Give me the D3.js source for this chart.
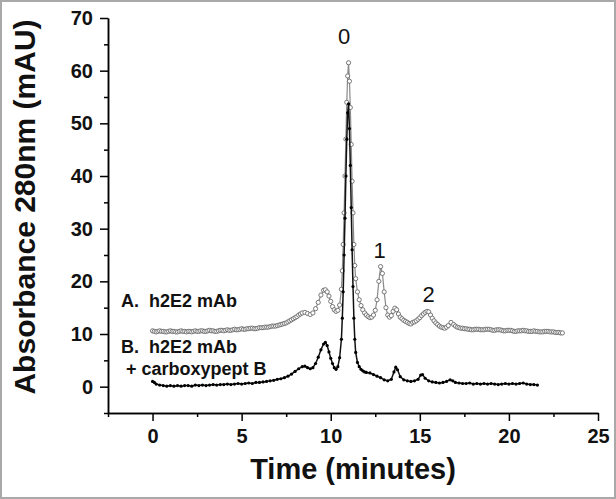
<!DOCTYPE html>
<html>
<head>
<meta charset="utf-8">
<script src="https://cdn.jsdelivr.net/npm/d3@7"></script>
<style>
  body { margin: 0; background: #fff; }
  svg { display: block; }
</style>
</head>
<body>
<svg width="616" height="499"></svg>
<script>
// series A: h2E2 mAb (open circles, sits ~10 mAU higher)
var timeA = [0,0.1,0.2,0.3,0.4,0.5,0.6,0.7,0.8,0.9,1,1.1,1.2,1.3,1.4,1.5,1.6,1.7,1.8,1.9,2,2.1,2.2,2.3,2.4,2.5,2.6,2.7,2.8,2.9,3,3.1,3.2,3.3,3.4,3.5,3.6,3.7,3.8,3.9,4,4.1,4.2,4.3,4.4,4.5,4.6,4.7,4.8,4.9,5,5.1,5.2,5.3,5.4,5.5,5.6,5.7,5.8,5.9,6,6.1,6.2,6.3,6.4,6.5,6.6,6.7,6.8,6.9,7,7.1,7.2,7.3,7.4,7.5,7.6,7.7,7.8,7.9,8,
  8.1,8.2,8.3,8.4,8.55,8.7,8.85,9,9.15,9.3,9.45,9.6,9.7,9.8,9.9,10,10.1,10.2,10.3,10.4,10.5,10.6,10.65,10.7,10.75,10.8,10.85,10.9,10.95,11,11.05,11.1,11.15,11.2,11.25,11.3,11.35,11.4,11.5,11.6,11.7,11.8,11.9,12,12.1,12.2,12.3,12.4,12.5,12.6,12.7,12.8,12.9,13,13.1,13.2,13.3,13.4,13.5,13.6,13.7,13.8,13.9,14,14.1,14.2,14.3,14.4,14.5,14.6,14.7,14.8,14.9,15,15.1,15.2,15.3,15.4,15.5,15.6,15.7,15.8,15.9,16,16.1,16.2,16.3,16.4,16.5,16.6,16.75,16.9,
  17,17.1,17.2,17.3,17.4,17.5,17.6,17.7,17.8,17.9,18,18.1,18.2,18.3,18.4,18.5,18.6,18.7,18.8,18.9,19,19.1,19.2,19.3,19.4,19.5,19.6,19.7,19.8,19.9,20,20.1,20.2,20.3,20.4,20.5,20.6,20.7,20.8,20.9,21,21.1,21.2,21.3,21.4,21.5,21.6,21.7,21.8,21.9,22,22.1,22.2,22.3,22.4,22.5,22.6,22.7,22.8,22.9,23];
var absA = [10.6,10.5,10.4,10.5,10.6,10.5,10.5,10.4,10.4,10.5,10.6,10.5,10.5,10.4,10.4,10.5,10.6,10.5,10.5,10.4,10.5,10.5,10.4,10.5,10.6,10.5,10.5,10.6,10.6,10.5,10.5,10.6,10.7,10.6,10.6,10.5,10.5,10.6,10.7,10.7,10.6,10.7,10.8,10.7,10.7,10.8,10.9,10.8,10.8,10.9,11,10.9,10.9,11,11,11.1,11.1,11,11,11.1,11.2,11.2,11.2,11.3,11.3,11.3,11.4,11.5,11.5,11.5,11.6,11.7,11.8,11.9,12,12.1,12.3,12.5,12.7,12.9,13.1,
  13.3,13.6,13.8,14,14.1,13.9,13.7,14,14.8,16,17.4,18.3,18.4,18,17.2,16.2,15.2,14.6,14.3,14.5,15.5,18.5,22,27,33,40,47,54,59,61.5,58,53,46,39,33,27,23,20.5,18,16.5,15.4,14.6,14,13.6,13.3,13.1,13.2,13.6,14.5,16.5,20,22.8,21.5,18,15,13.6,13.2,13.5,14.3,14.9,14.6,13.8,13.2,12.9,12.6,12.4,12.2,12,11.9,12.2,12.3,12.5,12.8,13.1,13.5,13.8,14.1,14.3,14.2,13.6,13,12.5,12.1,11.8,11.5,11.3,11.2,11.1,11.3,11.6,12.2,11.8,
  11.5,11.3,11.2,11.1,11.1,11,11,10.9,10.9,10.8,10.8,10.9,10.9,10.9,10.8,10.8,10.8,10.9,10.9,10.9,10.8,10.7,10.7,10.8,10.8,10.8,10.7,10.6,10.6,10.7,10.7,10.7,10.6,10.5,10.5,10.6,10.6,10.6,10.7,10.6,10.6,10.5,10.5,10.5,10.6,10.5,10.5,10.4,10.4,10.4,10.5,10.5,10.5,10.4,10.4,10.4,10.3,10.3,10.3,10.2,10.2];

// series B: h2E2 mAb + carboxypeptidase B (filled dots)
var timeB = [0,0.1,0.2,0.4,0.6,0.8,1,1.2,1.4,1.6,1.8,2,2.2,2.4,2.6,2.8,3,3.2,3.4,3.6,3.8,4,4.2,4.4,4.6,4.8,5,5.2,5.4,5.6,5.8,6,6.2,6.4,6.6,6.8,7,7.2,7.4,7.6,7.8,8,8.2,8.4,8.55,8.7,8.85,9,9.15,9.3,9.45,9.6,9.7,9.8,9.9,10,10.1,10.2,10.3,10.4,10.5,10.6,10.65,10.7,10.75,10.8,10.85,10.9,10.95,11,11.05,11.1,11.15,11.2,11.25,11.3,11.35,11.4,11.5,11.6,11.7,11.8,11.9,12,12.2,12.4,12.6,12.8,13,13.2,13.4,13.55,13.65,13.75,13.9,14.1,14.3,14.5,14.7,14.9,15.05,15.15,15.3,15.5,15.7,15.9,16.1,16.3,16.5,16.7,16.85,17,17.2,17.4,17.6,17.8,18,18.2,18.4,18.6,18.8,19,19.2,19.4,19.6,19.8,20,20.2,20.4,20.6,20.8,21,21.2,21.4,21.6];
var absB = [1,0.8,0.5,0.3,0.2,0.1,0.2,0.1,0.2,0.1,0.2,0.2,0.1,0.3,0.2,0.3,0.2,0.3,0.4,0.3,0.4,0.4,0.5,0.4,0.5,0.6,0.5,0.6,0.7,0.6,0.8,0.8,0.9,1,1.1,1.2,1.4,1.5,1.7,2,2.4,2.9,3.4,3.8,3.9,3.6,3.4,3.6,4.4,5.6,7,8.1,8.4,7.8,6.6,5.4,4.4,3.6,3.3,3.8,5.5,9,13,18,25,32,40,47,52,53.7,49,42,34,26,19,13,9,6.5,4.6,3.8,3.3,3,2.8,2.7,2.6,2.3,2,1.7,1.3,1.1,1.4,2.8,3.7,3.2,1.9,1.3,1.1,1,1.1,1.4,2.2,2.3,1.6,1.1,0.9,0.8,0.7,0.8,1,1.3,1.1,0.8,0.7,0.6,0.6,0.7,0.5,0.6,0.5,0.6,0.5,0.6,0.5,0.4,0.5,0.6,0.5,0.6,0.5,0.6,0.7,0.5,0.4,0.4,0.3];

var xMajor = [0, 5, 10, 15, 20, 25],
    xMinor = [-2.5, 2.5, 7.5, 12.5, 17.5, 22.5],
    yMajor = [0, 10, 20, 30, 40, 50, 60, 70],
    yMinor = [-5, 5, 15, 25, 35, 45, 55, 65];

var peakLabels = ["0", "1", "2"],
    peakTimes = [10.75, 12.75, 15.5],
    peakHeights = [65, 24.5, 16];

var svg = d3.select("svg"),
    margin = {top: 18, right: 18, bottom: 86, left: 108},
    width = +svg.attr("width") - margin.left - margin.right,
    height = +svg.attr("height") - margin.top - margin.bottom;

var font = "'Liberation Sans', Arial, sans-serif";

var x = d3.scaleLinear().domain([-2.5, 25]).range([0, width]),
    y = d3.scaleLinear().domain([-5, 70]).range([height, 0]);

// gray frame around the figure
svg.append("rect")
    .attr("x", 1).attr("y", 1)
    .attr("width", 614).attr("height", 497)
    .attr("fill", "none")
    .attr("stroke", "#a9a9a9")
    .attr("stroke-width", 2);

var g = svg.append("g")
    .attr("transform", "translate(" + margin.left + "," + margin.top + ")");

var xAxis = d3.axisBottom(x).tickValues(xMajor).tickSize(8).tickPadding(8).tickSizeOuter(0),
    xAxisMinor = d3.axisBottom(x).tickValues(xMinor).tickSize(4).tickFormat("").tickSizeOuter(0),
    yAxis = d3.axisLeft(y).tickValues(yMajor).tickSize(8).tickPadding(7).tickSizeOuter(0),
    yAxisMinor = d3.axisLeft(y).tickValues(yMinor).tickSize(4).tickFormat("").tickSizeOuter(0);

g.append("g").attr("transform", "translate(0," + height + ")").call(xAxisMinor);
g.append("g").attr("class", "axis").attr("transform", "translate(0," + height + ")").call(xAxis);
g.append("g").call(yAxisMinor);
g.append("g").attr("class", "axis").call(yAxis);

g.selectAll(".domain, .tick line")
    .attr("stroke", "#000")
    .attr("stroke-width", 1.5);

g.selectAll(".axis text")
    .style("font-family", font)
    .style("font-weight", "bold")
    .style("font-size", "20px")
    .attr("fill", "#111");

var dataA = timeA.map(function(t, i) { return {t: t, v: absA[i]}; }),
    dataB = timeB.map(function(t, i) { return {t: t, v: absB[i]}; });

var line = d3.line()
    .x(function(d) { return x(d.t); })
    .y(function(d) { return y(d.v); });

// series A
g.append("path")
    .attr("d", line(dataA))
    .attr("fill", "none")
    .attr("stroke", "#8a8a8a")
    .attr("stroke-width", 1.2);

g.selectAll(".ptA")
    .data(dataA)
    .enter().append("circle")
    .attr("class", "ptA")
    .attr("cx", function(d) { return x(d.t); })
    .attr("cy", function(d) { return y(d.v); })
    .attr("r", 2.1)
    .attr("fill", "#fff")
    .attr("stroke", "#6a6a6a")
    .attr("stroke-width", 0.9);

// series B
g.append("path")
    .attr("d", line(dataB))
    .attr("fill", "none")
    .attr("stroke", "#111")
    .attr("stroke-width", 1.5);

g.selectAll(".ptB")
    .data(dataB)
    .enter().append("circle")
    .attr("class", "ptB")
    .attr("cx", function(d) { return x(d.t); })
    .attr("cy", function(d) { return y(d.v); })
    .attr("r", 1.6)
    .attr("fill", "#000");

// peak numbers
g.selectAll(".peak")
    .data(peakLabels)
    .enter().append("text")
    .attr("class", "peak")
    .attr("x", function(d, i) { return x(peakTimes[i]); })
    .attr("y", function(d, i) { return y(peakHeights[i]); })
    .attr("text-anchor", "middle")
    .style("font-family", font)
    .style("font-size", "22px")
    .attr("fill", "#111")
    .text(function(d) { return d; });

// legend labels
var legend = [["A.  h2E2 mAb", 121, 307], ["B.  h2E2 mAb", 121, 353], ["+ carboxypept B", 126, 375]];
svg.selectAll(".leg")
    .data(legend)
    .enter().append("text")
    .attr("class", "leg")
    .attr("x", function(d) { return d[1]; })
    .attr("y", function(d) { return d[2]; })
    .style("font-family", font)
    .style("font-weight", "bold")
    .style("font-size", "18px")
    .style("white-space", "pre")
    .attr("fill", "#111")
    .text(function(d) { return d[0]; });

// axis titles
svg.append("text")
    .attr("transform", "translate(35,207)rotate(-90)")
    .attr("text-anchor", "middle")
    .style("font-family", font)
    .style("font-weight", "bold")
    .style("font-size", "30px")
    .attr("fill", "#111")
    .text("Absorbance 280nm (mAU)");

svg.append("text")
    .attr("x", margin.left + width / 2)
    .attr("y", 479)
    .attr("text-anchor", "middle")
    .style("font-family", font)
    .style("font-weight", "bold")
    .style("font-size", "29px")
    .attr("fill", "#111")
    .text("Time (minutes)");
</script>
</body>
</html>
